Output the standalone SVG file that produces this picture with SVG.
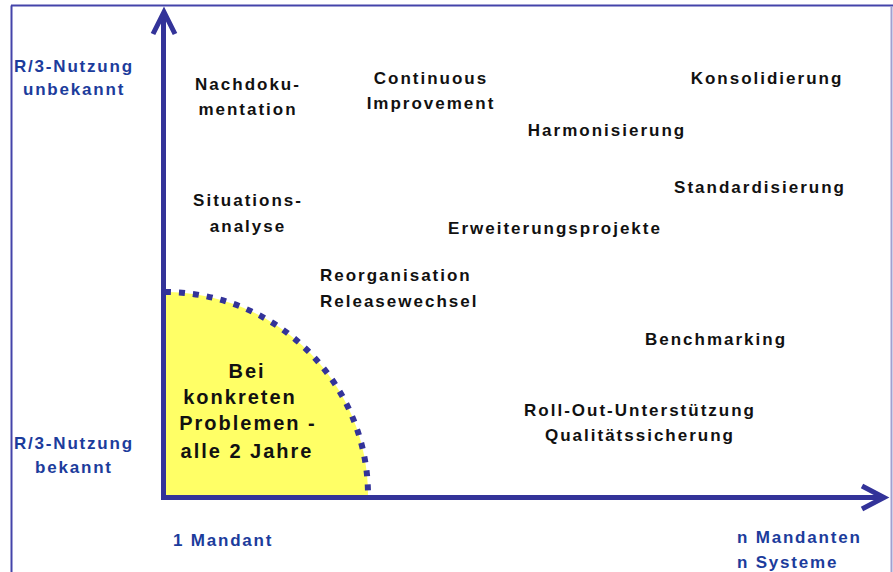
<svg xmlns="http://www.w3.org/2000/svg" width="893" height="572" viewBox="0 0 893 572">
<style>
.lbl{font-family:"Liberation Sans",Arial,sans-serif;font-weight:bold;font-size:17px;letter-spacing:2px;fill:#111;text-anchor:middle}
.lbs{font-family:"Liberation Sans",Arial,sans-serif;font-weight:bold;font-size:17px;letter-spacing:2px;fill:#111;text-anchor:start}
.ax{font-family:"Liberation Sans",Arial,sans-serif;font-weight:bold;font-size:17px;letter-spacing:1.8px;fill:#1c3c9c}
.yl{font-family:"Liberation Sans",Arial,sans-serif;font-weight:bold;font-size:20px;letter-spacing:2px;fill:#111;text-anchor:middle}
.axis{stroke:#333399;stroke-width:5;fill:none}
</style>
<rect width="893" height="572" fill="#fff"/>
<g id="frame" fill="none">
<line x1="11.5" y1="5.5" x2="11.5" y2="572" stroke="#4444aa" stroke-width="2"/>
<line x1="11" y1="5.5" x2="893" y2="5.5" stroke="#4444aa" stroke-width="2"/>
<line x1="891.5" y1="6" x2="891.5" y2="572" stroke="#a0a0d0" stroke-width="2"/>
</g>
<g id="zone">
<path d="M165,495 L165,292 A203,203 0 0 1 368,495 Z" fill="#ffff66"/>
<path d="M165,292 A203,203 0 0 1 368,495" fill="none" stroke="#333399" stroke-width="6" stroke-dasharray="6 8"/>
<text class="yl" x="247" y="378">Bei</text>
<text class="yl" x="240" y="404">konkreten</text>
<text class="yl" x="248" y="430">Problemen -</text>
<text class="yl" x="247" y="458">alle 2 Jahre</text>
</g>
<g id="connectors">
<line class="axis" x1="163.5" y1="14" x2="163.5" y2="500"/>
<line class="axis" x1="161" y1="497.5" x2="882" y2="497.5"/>
<polyline class="axis" points="153,34 164,12 175,34" stroke-linejoin="miter"/>
<polyline class="axis" points="862,486 884,497.5 862,509" stroke-linejoin="miter"/>
</g>
<g id="axis-labels">
<text class="ax" x="14" y="72">R/3-Nutzung</text>
<text class="ax" x="23" y="95">unbekannt</text>
<text class="ax" x="14" y="449">R/3-Nutzung</text>
<text class="ax" x="35" y="473">bekannt</text>
<text class="ax" x="173" y="546">1 Mandant</text>
<text class="ax" x="737" y="543">n Mandanten</text>
<text class="ax" x="737" y="568">n Systeme</text>
</g>
<g id="n-nachdoku"><text class="lbl" x="248" y="90">Nachdoku-</text><text class="lbl" x="248" y="115">mentation</text></g>
<g id="n-continuous"><text class="lbl" x="431" y="84">Continuous</text><text class="lbl" x="431" y="109">Improvement</text></g>
<g id="n-konsolidierung"><text class="lbl" x="767" y="84">Konsolidierung</text></g>
<g id="n-harmonisierung"><text class="lbl" x="607" y="136">Harmonisierung</text></g>
<g id="n-situation"><text class="lbl" x="248" y="206">Situations-</text><text class="lbl" x="248" y="232">analyse</text></g>
<g id="n-standardisierung"><text class="lbl" x="760" y="193">Standardisierung</text></g>
<g id="n-erweiterung"><text class="lbl" x="555" y="234">Erweiterungsprojekte</text></g>
<g id="n-reorg"><text class="lbs" x="320" y="281">Reorganisation</text><text class="lbs" x="320" y="307">Releasewechsel</text></g>
<g id="n-benchmarking"><text class="lbl" x="716" y="345">Benchmarking</text></g>
<g id="n-rollout"><text class="lbl" x="640" y="416">Roll-Out-Unterstützung</text><text class="lbl" x="640" y="441">Qualitätssicherung</text></g>
</svg>
